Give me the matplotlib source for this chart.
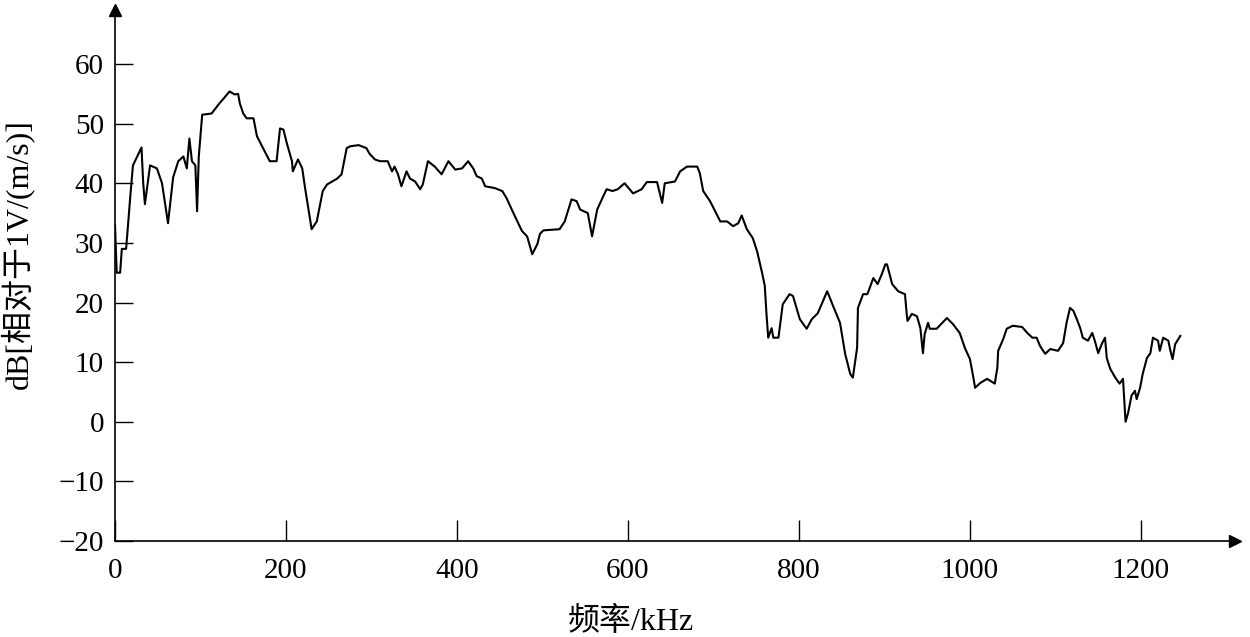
import matplotlib
matplotlib.use("Agg")
import matplotlib.pyplot as plt

plt.rcParams['font.family'] = ['Liberation Serif', 'Noto Sans CJK SC']

# frecuencia (kHz) y nivel (dB)
freq = [0, 2, 6, 8, 13, 18, 21, 26, 31, 33, 35, 41, 49, 55, 62, 68, 74, 80, 84,
        87, 90, 94, 96, 98, 102, 113, 121, 134, 140, 144, 146, 150, 154, 162,
        166, 175, 181, 189, 193, 197, 201, 207, 208, 214, 219, 222, 230, 236,
        243, 248, 260, 265, 271, 275, 285, 294, 298, 304, 310, 319, 324, 327,
        331, 335, 341, 345, 351, 357, 360, 366, 374, 382, 390, 398, 406, 413,
        419, 423, 429, 433, 444, 453, 458, 466, 476, 482, 488, 494, 497, 501,
        520, 526, 534, 540, 544, 553, 558, 564, 571, 575, 582, 588, 596, 606,
        616, 622, 634, 640, 643, 655, 661, 669, 681, 684, 688, 696, 708, 716,
        723, 729, 733, 739, 746, 751, 757, 760, 762, 764, 768, 770, 776, 781,
        789, 793, 801, 809, 815, 822, 833, 840, 848, 854, 860, 863, 868, 869,
        875, 880, 887, 892, 897, 901, 903, 909, 916, 924, 926, 927, 932, 938,
        942, 945, 947, 951, 953, 961, 973, 980, 988, 994, 1000, 1004, 1006,
        1012, 1020, 1029, 1032, 1033, 1039, 1043, 1050, 1061, 1067, 1073, 1078,
        1082, 1088, 1094, 1103, 1109, 1113, 1117, 1121, 1125, 1129, 1132, 1138,
        1143, 1146, 1150, 1154, 1158, 1160, 1164, 1170, 1175, 1179, 1181, 1182,
        1185, 1189, 1193, 1195, 1199, 1202, 1207, 1211, 1214, 1220, 1222, 1226,
        1232, 1234, 1237, 1240, 1246]
db = [33, 25, 25, 29, 29, 38, 43, 44.5, 46, 40, 36.5, 43, 42.5, 40, 33.3, 41,
      43.7, 44.5, 42.5, 47.5, 43.7, 43, 35.3, 44.5, 51.5, 51.7, 53.2, 55.4,
      54.9, 55, 53.4, 51.7, 50.9, 50.9, 47.9, 45.4, 43.7, 43.7, 49.2, 49,
      46.7, 43.7, 42, 44, 42.5, 39.5, 32.3, 33.6, 38.7, 39.8, 40.8, 41.5,
      45.9, 46.2, 46.4, 45.9, 44.9, 44, 43.7, 43.7, 42, 42.8, 41.5, 39.5, 42,
      40.8, 40.3, 39, 39.8, 43.7, 42.8, 41.5, 43.7, 42.3, 42.5, 43.7, 42.5,
      41.2, 40.8, 39.5, 39.2, 38.7, 37.5, 35, 32, 31.1, 28.1, 29.8, 31.5,
      32.1, 32.3, 33.6, 37.3, 37, 35.6, 35, 31.1, 35.6, 37.8, 39, 38.7, 39,
      40, 38.3, 39, 40.2, 40.2, 36.7, 40, 40.3, 42, 42.8, 42.8, 41.7, 38.7,
      37, 33.6, 33.6, 32.8, 33.3, 34.6, 32.3, 30.8, 28.6, 24.9, 22.8, 18.1,
      14.1, 15.7, 14.1, 14.1, 19.7, 21.4, 21.1, 17.2, 15.6, 17.2, 18.2, 21.9,
      19.4, 16.6, 11.4, 8, 7.4, 12.4, 19.1, 21.4, 21.4, 24.1, 23.1, 24.8,
      26.4, 26.4, 23.1, 21.9, 21.4, 18.1, 16.9, 18.1, 17.7, 15.7, 11.5, 14.7,
      16.6, 15.6, 15.6, 17.4, 16.4, 14.9, 12.4, 10.5, 7.4, 5.7, 6.5, 7.2,
      6.4, 9, 11.9, 13.9, 15.6, 16.1, 15.9, 14.9, 14.1, 14.1, 12.7, 11.4,
      12.2, 11.9, 13.2, 16.6, 19.1, 18.6, 17.2, 15.7, 14.1, 13.6, 14.9, 13.6,
      11.5, 13, 14.1, 10.7, 8.9, 7.4, 6.4, 7.2, 2.3, 0, 1.5, 4.4, 5.2, 3.8,
      5.7, 8, 10.7, 11.5, 14.1, 13.6, 11.9, 14.1, 13.6, 12.2, 10.5, 13, 14.4]

xticks = [0, 200, 400, 600, 800, 1000, 1200]
yticks = [-20, -10, 0, 10, 20, 30, 40, 50, 60]
ytick_labels = ['\u221220', '\u221210', '0', '10', '20', '30', '40', '50', '60']

fig = plt.figure(figsize=(12.5, 6.37), dpi=100)
ax = fig.add_axes([0.092, 0.1507, 0.896, 0.833])
ax.plot(freq, db, color='black', lw=1.5)

ax.set_xlim(0, 1310)
ax.set_ylim(-20, 69)
ax.spines['top'].set_visible(False)
ax.spines['right'].set_visible(False)
ax.spines['left'].set_linewidth(1.2)
ax.spines['bottom'].set_linewidth(1.2)

ax.set_xticks(xticks)
ax.set_xticklabels([str(t) for t in xticks])
ax.set_yticks(yticks)
ax.set_yticklabels(ytick_labels)
ax.tick_params(axis='x', direction='in', length=15, width=1, pad=12, labelsize=21)
ax.tick_params(axis='y', direction='in', length=13, width=1, pad=8, labelsize=21)

# flechas al final de los ejes
ax.plot(1, -20, '>', color='black', ms=9, transform=ax.get_yaxis_transform(), clip_on=False)
ax.plot(0, 1, '^', color='black', ms=9, transform=ax.get_xaxis_transform(), clip_on=False)

ax.set_xlabel('频率/kHz', fontsize=23, va='center')
ax.set_ylabel('dB[相对于1V/(m/s)]', fontsize=23, va='center')
ax.xaxis.set_label_coords(0.461, -0.153)
ax.yaxis.set_label_coords(-0.087, 0.54)

fig.savefig('out.png', dpi=100)
